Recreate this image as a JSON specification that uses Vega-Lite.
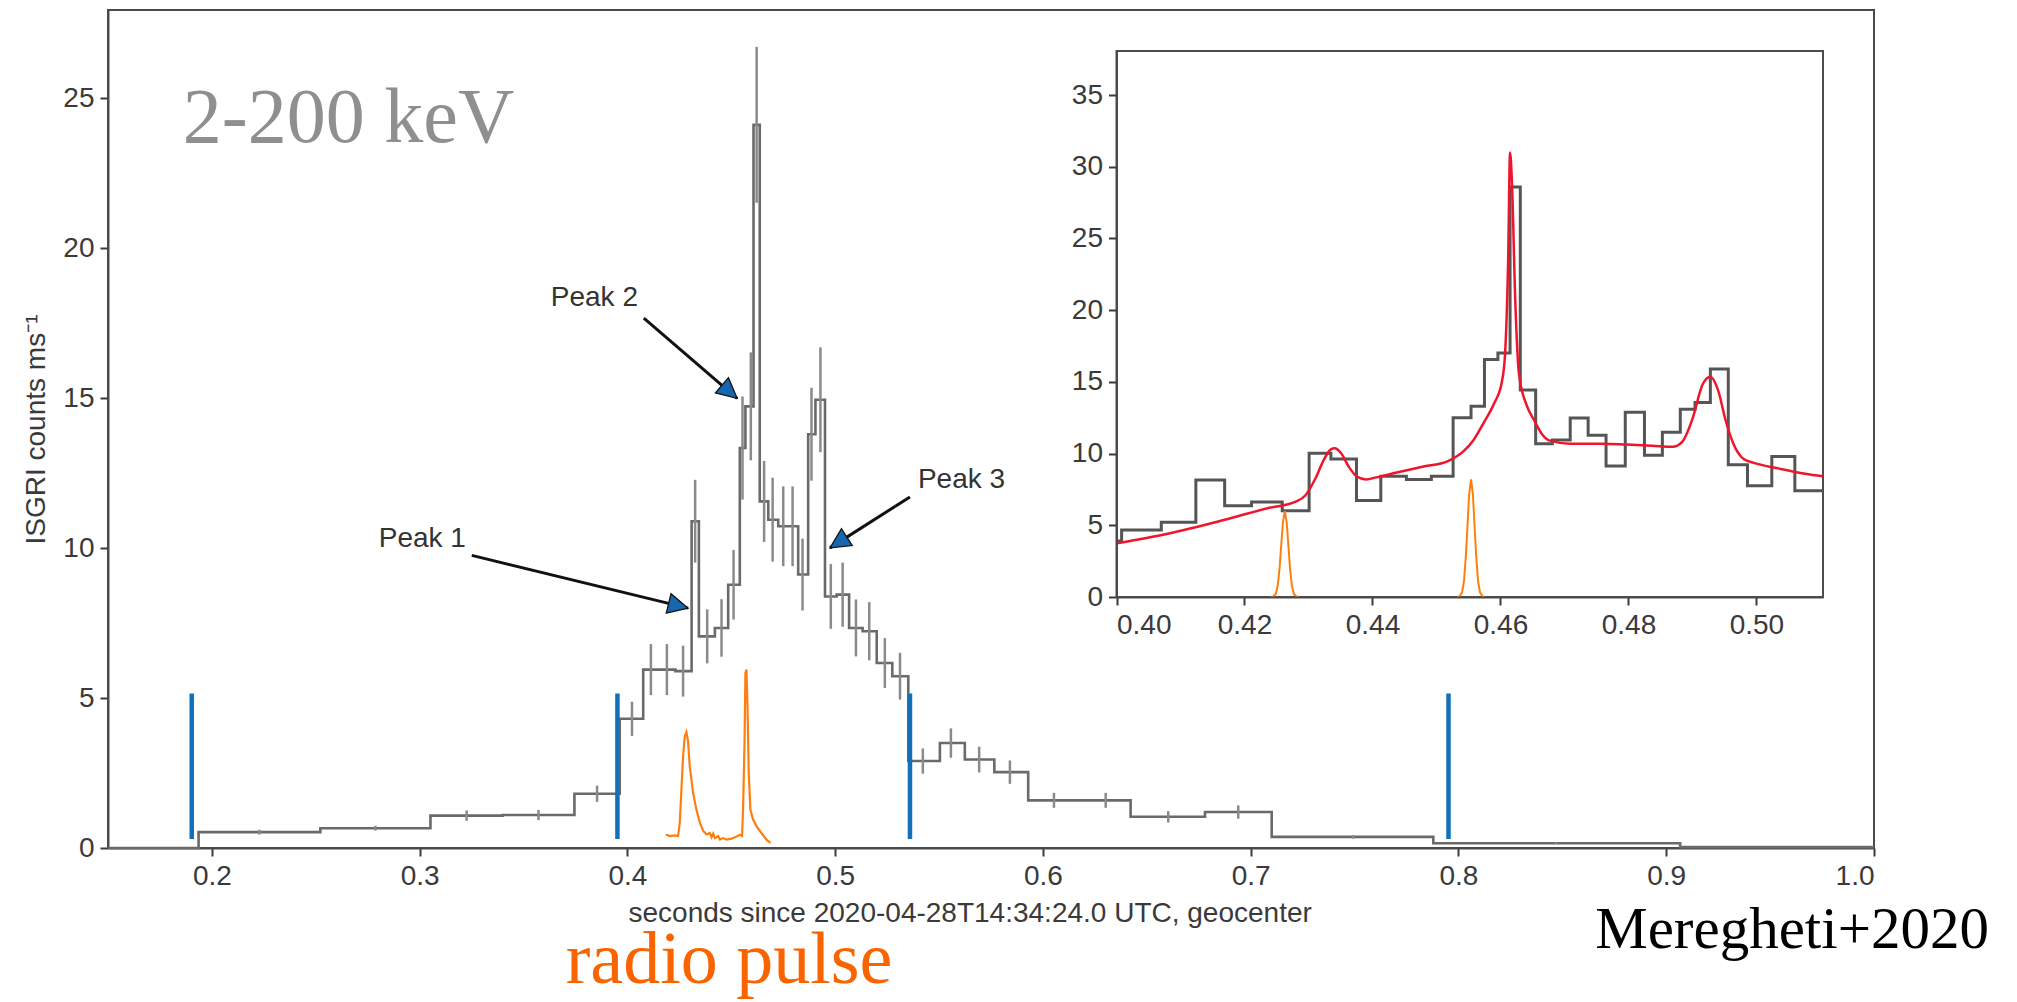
{
  "$schema": "https://vega.github.io/schema/vega-lite/v6.json",
  "width": 1766,
  "height": 838,
  "autosize": {"type": "none"},
  "padding": {"left": 108, "top": 10, "right": 143, "bottom": 154},
  "background": "white",
  "config": {
    "view": {"stroke": "#4a4a4a", "strokeWidth": 2},
    "font": "Liberation Sans",
    "axis": {
      "grid": false,
      "labelFont": "Liberation Sans",
      "titleFont": "Liberation Sans",
      "labelFontSize": 28,
      "titleFontSize": 28,
      "titleFontWeight": "normal",
      "labelColor": "#3a3a3a",
      "titleColor": "#3a3a3a",
      "tickColor": "#3a3a3a",
      "domainColor": "#4a4a4a",
      "domainWidth": 2,
      "tickWidth": 2,
      "tickSize": 8,
      "labelPadding": 6
    }
  },
  "datasets": {
    "counts": [
      {"t": 0.15, "v": 0},
      {"t": 0.1936, "v": 0.53},
      {"t": 0.2522, "v": 0.66},
      {"t": 0.3052, "v": 1.08},
      {"t": 0.34, "v": 1.1},
      {"t": 0.3745, "v": 1.81},
      {"t": 0.3963, "v": 4.31},
      {"t": 0.4076, "v": 5.95},
      {"t": 0.4154, "v": 5.95},
      {"t": 0.4231, "v": 5.9},
      {"t": 0.4309, "v": 10.9},
      {"t": 0.4344, "v": 7.06},
      {"t": 0.4421, "v": 7.34},
      {"t": 0.4485, "v": 8.78},
      {"t": 0.4541, "v": 13.34},
      {"t": 0.4568, "v": 14.73},
      {"t": 0.4607, "v": 24.12},
      {"t": 0.4637, "v": 11.56},
      {"t": 0.4678, "v": 10.95},
      {"t": 0.4726, "v": 10.73},
      {"t": 0.4774, "v": 10.73},
      {"t": 0.4822, "v": 9.12},
      {"t": 0.487, "v": 13.8},
      {"t": 0.4905, "v": 14.95},
      {"t": 0.4951, "v": 8.39},
      {"t": 0.5007, "v": 8.45},
      {"t": 0.5067, "v": 7.34},
      {"t": 0.5132, "v": 7.23},
      {"t": 0.52, "v": 6.17},
      {"t": 0.5275, "v": 5.73},
      {"t": 0.5352, "v": 2.9},
      {"t": 0.5504, "v": 3.5},
      {"t": 0.5624, "v": 2.95},
      {"t": 0.5766, "v": 2.53},
      {"t": 0.5929, "v": 1.59},
      {"t": 0.6177, "v": 1.59},
      {"t": 0.6422, "v": 1.04},
      {"t": 0.678, "v": 1.2},
      {"t": 0.7101, "v": 0.37},
      {"t": 0.7879, "v": 0.16},
      {"t": 0.9067, "v": 0.03},
      {"t": 1.0, "v": 0.03}
    ],
    "errs": [
      {"t": 0.2229, "v": 0.53, "e": 0.08},
      {"t": 0.2787, "v": 0.66, "e": 0.08},
      {"t": 0.3226, "v": 1.08, "e": 0.17},
      {"t": 0.3572, "v": 1.1, "e": 0.17},
      {"t": 0.3854, "v": 1.81, "e": 0.27},
      {"t": 0.4022, "v": 4.31, "e": 0.57},
      {"t": 0.4113, "v": 5.95, "e": 0.85},
      {"t": 0.419, "v": 5.95, "e": 0.85},
      {"t": 0.4268, "v": 5.9, "e": 0.85},
      {"t": 0.4326, "v": 10.9, "e": 1.38},
      {"t": 0.4384, "v": 7.06, "e": 0.9},
      {"t": 0.4453, "v": 7.34, "e": 0.96},
      {"t": 0.4511, "v": 8.78, "e": 1.16},
      {"t": 0.4554, "v": 13.34, "e": 1.72},
      {"t": 0.4594, "v": 14.73, "e": 1.8},
      {"t": 0.4622, "v": 24.12, "e": 2.6},
      {"t": 0.4658, "v": 11.56, "e": 1.35},
      {"t": 0.4699, "v": 10.95, "e": 1.4},
      {"t": 0.475, "v": 10.73, "e": 1.33},
      {"t": 0.4795, "v": 10.73, "e": 1.33},
      {"t": 0.4843, "v": 9.12, "e": 1.2},
      {"t": 0.4886, "v": 13.8, "e": 1.55},
      {"t": 0.4929, "v": 14.95, "e": 1.75},
      {"t": 0.4979, "v": 8.39, "e": 1.08},
      {"t": 0.5036, "v": 8.45, "e": 1.07},
      {"t": 0.51, "v": 7.34, "e": 0.95},
      {"t": 0.5164, "v": 7.23, "e": 0.97},
      {"t": 0.5239, "v": 6.17, "e": 0.83},
      {"t": 0.5312, "v": 5.73, "e": 0.78},
      {"t": 0.5422, "v": 2.9, "e": 0.42},
      {"t": 0.5557, "v": 3.5, "e": 0.49},
      {"t": 0.5693, "v": 2.95, "e": 0.43},
      {"t": 0.5841, "v": 2.53, "e": 0.39},
      {"t": 0.6053, "v": 1.59, "e": 0.25},
      {"t": 0.6302, "v": 1.59, "e": 0.25},
      {"t": 0.6603, "v": 1.04, "e": 0.19},
      {"t": 0.694, "v": 1.2, "e": 0.22},
      {"t": 0.7494, "v": 0.37, "e": 0.06},
      {"t": 0.847, "v": 0.16, "e": 0.03}
    ],
    "radio": [
      {"t": 0.4185, "v": 0.45}, {"t": 0.4204, "v": 0.4}, {"t": 0.4228, "v": 0.42},
      {"t": 0.4244, "v": 0.4}, {"t": 0.4252, "v": 0.84}, {"t": 0.426, "v": 1.95},
      {"t": 0.4268, "v": 3.06}, {"t": 0.4276, "v": 3.73}, {"t": 0.4284, "v": 3.87},
      {"t": 0.4292, "v": 3.56}, {"t": 0.43, "v": 2.73}, {"t": 0.4316, "v": 1.84},
      {"t": 0.4332, "v": 1.28}, {"t": 0.4349, "v": 0.84}, {"t": 0.4365, "v": 0.57},
      {"t": 0.4381, "v": 0.45}, {"t": 0.4397, "v": 0.5}, {"t": 0.4405, "v": 0.36},
      {"t": 0.4413, "v": 0.48}, {"t": 0.4421, "v": 0.33}, {"t": 0.4437, "v": 0.4},
      {"t": 0.4445, "v": 0.28}, {"t": 0.4461, "v": 0.33}, {"t": 0.4477, "v": 0.28},
      {"t": 0.4501, "v": 0.31}, {"t": 0.4525, "v": 0.38}, {"t": 0.4541, "v": 0.44},
      {"t": 0.4552, "v": 0.4}, {"t": 0.4557, "v": 1.39}, {"t": 0.4564, "v": 3.62},
      {"t": 0.4568, "v": 5.84}, {"t": 0.4573, "v": 5.95}, {"t": 0.4578, "v": 4.73},
      {"t": 0.4584, "v": 2.5}, {"t": 0.4592, "v": 1.28}, {"t": 0.4605, "v": 0.95},
      {"t": 0.4621, "v": 0.73}, {"t": 0.4645, "v": 0.5}, {"t": 0.4669, "v": 0.28},
      {"t": 0.4689, "v": 0.17}
    ],
    "edges": [
      {"t": 0.1903, "lo": 0.3, "hi": 5.15},
      {"t": 0.3952, "lo": 0.3, "hi": 5.15},
      {"t": 0.536, "lo": 0.3, "hi": 5.15},
      {"t": 0.7952, "lo": 0.3, "hi": 5.15}
    ],
    "arrows": [
      {"name": "Peak 1", "t": 0.3251, "v": 9.76, "t2": 0.4292, "v2": 8.0, "lt": 0.3013, "lv": 10.32},
      {"name": "Peak 2", "t": 0.4079, "v": 17.67, "t2": 0.4528, "v2": 15.0, "lt": 0.3841, "lv": 18.35},
      {"name": "Peak 3", "t": 0.536, "v": 11.71, "t2": 0.4975, "v2": 10.01, "lt": 0.5608, "lv": 12.28}
    ],
    "frame": [
      {"t": 0.4, "t2": 0.5104, "v": 0, "v2": 38.07}
    ],
    "zoomCounts": [
      {"t": 0.4, "v": 3.9},
      {"t": 0.4008, "v": 4.68},
      {"t": 0.407, "v": 5.21},
      {"t": 0.4124, "v": 8.15},
      {"t": 0.4169, "v": 6.36},
      {"t": 0.4211, "v": 6.63},
      {"t": 0.4259, "v": 6.01},
      {"t": 0.4301, "v": 10.02},
      {"t": 0.4335, "v": 9.62},
      {"t": 0.4375, "v": 6.73},
      {"t": 0.4413, "v": 8.42},
      {"t": 0.4453, "v": 8.2},
      {"t": 0.4492, "v": 8.42},
      {"t": 0.4526, "v": 12.5},
      {"t": 0.4554, "v": 13.3},
      {"t": 0.4575, "v": 16.56},
      {"t": 0.4596, "v": 17.02},
      {"t": 0.4615, "v": 28.59},
      {"t": 0.4631, "v": 14.43},
      {"t": 0.4655, "v": 10.69},
      {"t": 0.4681, "v": 10.95},
      {"t": 0.4709, "v": 12.48},
      {"t": 0.4737, "v": 11.27},
      {"t": 0.4765, "v": 9.14},
      {"t": 0.4795, "v": 12.88},
      {"t": 0.4825, "v": 9.89},
      {"t": 0.4853, "v": 11.49},
      {"t": 0.4881, "v": 13.09},
      {"t": 0.4904, "v": 13.57},
      {"t": 0.4928, "v": 15.9},
      {"t": 0.4956, "v": 9.22},
      {"t": 0.4986, "v": 7.75},
      {"t": 0.5024, "v": 9.8},
      {"t": 0.506, "v": 7.4},
      {"t": 0.5104, "v": 7.4}
    ],
    "fit": [
      {"t": 0.4, "v": 3.74}, {"t": 0.408, "v": 4.41}, {"t": 0.4159, "v": 5.26},
      {"t": 0.4239, "v": 6.22}, {"t": 0.4279, "v": 6.63}, {"t": 0.4295, "v": 7.08},
      {"t": 0.4311, "v": 8.28}, {"t": 0.4323, "v": 9.48}, {"t": 0.4335, "v": 10.29},
      {"t": 0.4341, "v": 10.37}, {"t": 0.4351, "v": 10.02}, {"t": 0.4363, "v": 9.08},
      {"t": 0.4375, "v": 8.42}, {"t": 0.439, "v": 8.2}, {"t": 0.4406, "v": 8.34},
      {"t": 0.4438, "v": 8.68}, {"t": 0.4478, "v": 9.08}, {"t": 0.4518, "v": 9.48},
      {"t": 0.4542, "v": 10.15}, {"t": 0.4558, "v": 10.95}, {"t": 0.4574, "v": 12.16},
      {"t": 0.459, "v": 13.49}, {"t": 0.4602, "v": 14.96}, {"t": 0.4607, "v": 16.83},
      {"t": 0.4612, "v": 23.5}, {"t": 0.4615, "v": 31.0}, {"t": 0.4618, "v": 28.85},
      {"t": 0.4623, "v": 20.84}, {"t": 0.4629, "v": 15.5}, {"t": 0.4641, "v": 13.36},
      {"t": 0.4653, "v": 12.29}, {"t": 0.4665, "v": 11.35}, {"t": 0.4677, "v": 10.9},
      {"t": 0.4709, "v": 10.69}, {"t": 0.4757, "v": 10.69}, {"t": 0.4797, "v": 10.63},
      {"t": 0.4837, "v": 10.55}, {"t": 0.4869, "v": 10.47}, {"t": 0.4884, "v": 10.82},
      {"t": 0.49, "v": 12.42}, {"t": 0.4916, "v": 14.83}, {"t": 0.4928, "v": 15.36},
      {"t": 0.494, "v": 14.43}, {"t": 0.4952, "v": 12.29}, {"t": 0.4964, "v": 10.69},
      {"t": 0.498, "v": 9.62}, {"t": 0.4996, "v": 9.35}, {"t": 0.5036, "v": 8.95},
      {"t": 0.5076, "v": 8.6}, {"t": 0.5104, "v": 8.42}
    ],
    "zoomRadio": [
      {"pulse": "a", "t": 0.4241, "v": 0}, {"pulse": "a", "t": 0.4245, "v": 0.03},
      {"pulse": "a", "t": 0.4249, "v": 0.23}, {"pulse": "a", "t": 0.4252, "v": 0.81},
      {"pulse": "a", "t": 0.4255, "v": 2.1}, {"pulse": "a", "t": 0.42575, "v": 3.65},
      {"pulse": "a", "t": 0.426, "v": 5.2}, {"pulse": "a", "t": 0.4263, "v": 6.0},
      {"pulse": "a", "t": 0.4266, "v": 5.2}, {"pulse": "a", "t": 0.42685, "v": 3.65},
      {"pulse": "a", "t": 0.4271, "v": 2.1}, {"pulse": "a", "t": 0.4274, "v": 0.81},
      {"pulse": "a", "t": 0.4277, "v": 0.23}, {"pulse": "a", "t": 0.4281, "v": 0.03},
      {"pulse": "a", "t": 0.4285, "v": 0},
      {"pulse": "b", "t": 0.4532, "v": 0}, {"pulse": "b", "t": 0.4536, "v": 0.04},
      {"pulse": "b", "t": 0.454, "v": 0.32}, {"pulse": "b", "t": 0.4543, "v": 1.1},
      {"pulse": "b", "t": 0.4546, "v": 2.9}, {"pulse": "b", "t": 0.45485, "v": 5.0},
      {"pulse": "b", "t": 0.4551, "v": 7.1}, {"pulse": "b", "t": 0.4554, "v": 8.2},
      {"pulse": "b", "t": 0.4557, "v": 7.1}, {"pulse": "b", "t": 0.45595, "v": 5.0},
      {"pulse": "b", "t": 0.4562, "v": 2.9}, {"pulse": "b", "t": 0.4565, "v": 1.1},
      {"pulse": "b", "t": 0.4568, "v": 0.32}, {"pulse": "b", "t": 0.4572, "v": 0.04},
      {"pulse": "b", "t": 0.4576, "v": 0}
    ]
  },
  "layer": [
    {
      "encoding": {
        "x": {
          "field": "t",
          "type": "quantitative",
          "scale": {"domain": [0.15, 1.0], "nice": false, "zero": false},
          "axis": {
            "values": [0.2, 0.3, 0.4, 0.5, 0.6, 0.7, 0.8, 0.9, 1.0],
            "format": ".1f",
            "title": "seconds since 2020-04-28T14:34:24.0 UTC, geocenter",
            "titlePadding": 9,
            "titleAnchor": "start",
            "titleAlign": "left",
            "titleX": 520
          }
        },
        "y": {
          "field": "v",
          "type": "quantitative",
          "scale": {"domain": [0, 27.95], "nice": false, "zero": false},
          "axis": {
            "values": [0, 5, 10, 15, 20, 25],
            "title": "ISGRI counts ms⁻¹",
            "titlePadding": 12
          }
        }
      },
      "layer": [
        {
          "data": {"name": "counts"},
          "mark": {"type": "line", "interpolate": "step-after", "color": "#6a6a6a", "strokeWidth": 2.6}
        },
        {
          "data": {"name": "errs"},
          "mark": {"type": "errorbar", "color": "#8a8a8a", "thickness": 2.5},
          "encoding": {"yError": {"field": "e"}}
        },
        {
          "data": {"name": "edges"},
          "mark": {"type": "rule", "color": "#1170b8", "strokeWidth": 4.5},
          "encoding": {
            "y": {"field": "lo", "type": "quantitative"},
            "y2": {"field": "hi"}
          }
        },
        {
          "data": {"name": "radio"},
          "mark": {"type": "line", "color": "#ff7f0e", "strokeWidth": 2.2}
        },
        {
          "data": {"name": "arrows"},
          "mark": {"type": "rule", "color": "#111111", "strokeWidth": 3},
          "encoding": {"x2": {"field": "t2"}, "y2": {"field": "v2"}}
        },
        {
          "data": {"name": "arrows"},
          "transform": [{"filter": "datum.name === 'Peak 1'"}],
          "mark": {"type": "point", "shape": "M0,0L-0.5,1L0.5,1Z", "size": 1600, "angle": 103.7, "filled": true, "fill": "#1666b0", "stroke": "#111111", "strokeWidth": 1.3, "opacity": 1},
          "encoding": {"x": {"field": "t2", "type": "quantitative"}, "y": {"field": "v2", "type": "quantitative"}}
        },
        {
          "data": {"name": "arrows"},
          "transform": [{"filter": "datum.name === 'Peak 2'"}],
          "mark": {"type": "point", "shape": "M0,0L-0.5,1L0.5,1Z", "size": 1600, "angle": 130.6, "filled": true, "fill": "#1666b0", "stroke": "#111111", "strokeWidth": 1.3, "opacity": 1},
          "encoding": {"x": {"field": "t2", "type": "quantitative"}, "y": {"field": "v2", "type": "quantitative"}}
        },
        {
          "data": {"name": "arrows"},
          "transform": [{"filter": "datum.name === 'Peak 3'"}],
          "mark": {"type": "point", "shape": "M0,0L-0.5,1L0.5,1Z", "size": 1600, "angle": 237.4, "filled": true, "fill": "#1666b0", "stroke": "#111111", "strokeWidth": 1.3, "opacity": 1},
          "encoding": {"x": {"field": "t2", "type": "quantitative"}, "y": {"field": "v2", "type": "quantitative"}}
        },
        {
          "data": {"name": "arrows"},
          "mark": {"type": "text", "font": "Liberation Sans", "fontSize": 28, "color": "#333333", "align": "center", "baseline": "middle"},
          "encoding": {
            "x": {"field": "lt", "type": "quantitative"},
            "y": {"field": "lv", "type": "quantitative"},
            "text": {"field": "name"}
          }
        },
        {
          "data": {"values": [{"label": "2-200 keV", "t": 0.186, "v": 23.55}]},
          "mark": {"type": "text", "font": "Liberation Serif", "fontSize": 78, "color": "#8f8f8f", "align": "left", "baseline": "alphabetic"},
          "encoding": {"text": {"field": "label"}}
        },
        {
          "data": {"values": [{"label": "radio pulse", "t": 0.3703, "v": -4.5}]},
          "mark": {"type": "text", "font": "Liberation Serif", "fontSize": 74, "color": "#fa6400", "align": "left", "baseline": "alphabetic"},
          "encoding": {"text": {"field": "label"}}
        },
        {
          "data": {"values": [{"label": "Meregheti+2020", "t": 0.8658, "v": -3.32}]},
          "mark": {"type": "text", "font": "Liberation Serif", "fontSize": 59, "color": "#000000", "align": "left", "baseline": "alphabetic"},
          "encoding": {"text": {"field": "label"}}
        }
      ]
    },
    {
      "encoding": {
        "x": {
          "field": "t",
          "type": "quantitative",
          "scale": {"domain": [0.4, 0.5104], "range": [1008.5, 1715], "nice": false, "zero": false},
          "axis": {
            "orient": "bottom",
            "offset": -251,
            "values": [0.4, 0.42, 0.44, 0.46, 0.48, 0.5],
            "format": ".2f",
            "title": null,
            "zindex": 1
          }
        },
        "y": {
          "field": "v",
          "type": "quantitative",
          "scale": {"domain": [0, 38.07], "range": [587, 41], "nice": false, "zero": false},
          "axis": {
            "orient": "left",
            "offset": -1008.5,
            "values": [0, 5, 10, 15, 20, 25, 30, 35],
            "title": null,
            "zindex": 1
          }
        }
      },
      "layer": [
        {
          "data": {"name": "frame"},
          "mark": {"type": "rect", "fill": "white", "stroke": "#4d4d4d", "strokeWidth": 2},
          "encoding": {"x2": {"field": "t2"}, "y2": {"field": "v2"}}
        },
        {
          "data": {"name": "zoomCounts"},
          "mark": {"type": "line", "interpolate": "step-after", "color": "#555555", "strokeWidth": 3}
        },
        {
          "data": {"name": "zoomRadio"},
          "mark": {"type": "line", "color": "#ff7f0e", "strokeWidth": 2},
          "encoding": {"detail": {"field": "pulse"}}
        },
        {
          "data": {"name": "fit"},
          "mark": {"type": "line", "color": "#f0142d", "strokeWidth": 2.5, "interpolate": "monotone"}
        }
      ]
    }
  ],
  "resolve": {
    "scale": {"x": "independent", "y": "independent"},
    "axis": {"x": "independent", "y": "independent"}
  }
}
